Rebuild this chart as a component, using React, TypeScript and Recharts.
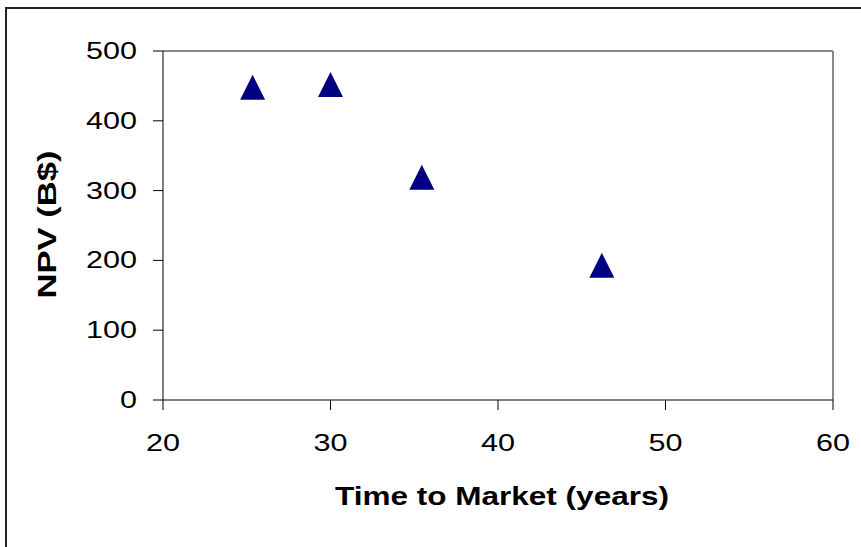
import { ScatterChart, Scatter, XAxis, YAxis, ReferenceLine, Label } from "recharts";

const timeToMarket = [25.35, 30.0, 35.45, 46.2];
const npv = [448, 452, 319, 193];
const xTicks = [20, 30, 40, 50, 60];
const yTicks = [0, 100, 200, 300, 400, 500];

const points = timeToMarket.map((t, i) => ({ t, npv: npv[i] }));

const font = "'Liberation Sans', Arial, sans-serif";

function Triangle(props: any) {
  const { cx, cy } = props;
  const h = 12.5;
  return (
    <polygon
      points={`${cx},${cy - h} ${cx - h},${cy + h} ${cx + h},${cy + h}`}
      fill="#000080"
    />
  );
}

function YTick(props: any) {
  const { x, y, payload } = props;
  const s = String(payload.value);
  return (
    <text
      x={x - 16}
      y={y + 8}
      textAnchor="end"
      fontFamily={font}
      fontSize={24.5}
      fill="#000"
      textLength={s.length * 17}
      lengthAdjust="spacingAndGlyphs"
    >
      {s}
    </text>
  );
}

function XTick(props: any) {
  const { x, y, payload } = props;
  const s = String(payload.value);
  return (
    <text
      x={x}
      y={y + 41}
      textAnchor="middle"
      fontFamily={font}
      fontSize={24.5}
      fill="#000"
      textLength={s.length * 17}
      lengthAdjust="spacingAndGlyphs"
    >
      {s}
    </text>
  );
}

export default function App() {
  return (
    <div style={{ position: "absolute", left: 0, top: 0, width: 861, height: 547, background: "#fff" }}>
      <div
        style={{
          position: "absolute",
          left: 5,
          top: 7,
          width: 900,
          height: 600,
          borderLeft: "2px solid #222",
          borderTop: "2px solid #222",
        }}
      />
      <ScatterChart
        width={861}
        height={547}
        margin={{ top: 51, right: 28, bottom: 27, left: 0 }}
        style={{ position: "absolute", left: 0, top: 0 }}
      >
        <XAxis
          type="number"
          dataKey="t"
          domain={[20, 60]}
          ticks={xTicks}
          allowDataOverflow
          height={120}
          tickSize={10}
          tickMargin={0}
          stroke="#000"
          tickLine={{ stroke: "#000" }}
          tick={<XTick />}
        >
          <Label
            content={(p: any) => {
              const vb = p.viewBox;
              return (
                <text
                  x={vb.x + vb.width / 2 + 4}
                  y={vb.y + 105}
                  textAnchor="middle"
                  fontFamily={font}
                  fontWeight="bold"
                  fontSize={25.5}
                  fill="#000"
                  textLength={334}
                  lengthAdjust="spacingAndGlyphs"
                >
                  Time to Market (years)
                </text>
              );
            }}
          />
        </XAxis>
        <YAxis
          type="number"
          dataKey="npv"
          domain={[0, 500]}
          ticks={yTicks}
          allowDataOverflow
          width={163}
          tickSize={10}
          tickMargin={0}
          stroke="#000"
          tickLine={{ stroke: "#000" }}
          tick={<YTick />}
        >
          <Label
            content={(p: any) => {
              const vb = p.viewBox;
              const cy = vb.y + vb.height / 2 - 1;
              return (
                <text
                  x={56}
                  y={cy}
                  transform={`rotate(-90 56 ${cy})`}
                  textAnchor="middle"
                  fontFamily={font}
                  fontWeight="bold"
                  fontSize={25.5}
                  fill="#000"
                  textLength={148}
                  lengthAdjust="spacingAndGlyphs"
                >
                  NPV (B$)
                </text>
              );
            }}
          />
        </YAxis>
        <ReferenceLine y={500} stroke="#888" strokeWidth={2} />
        <ReferenceLine x={60} stroke="#888" strokeWidth={2} />
        <Scatter data={points} shape={<Triangle />} isAnimationActive={false} />
      </ScatterChart>
    </div>
  );
}
